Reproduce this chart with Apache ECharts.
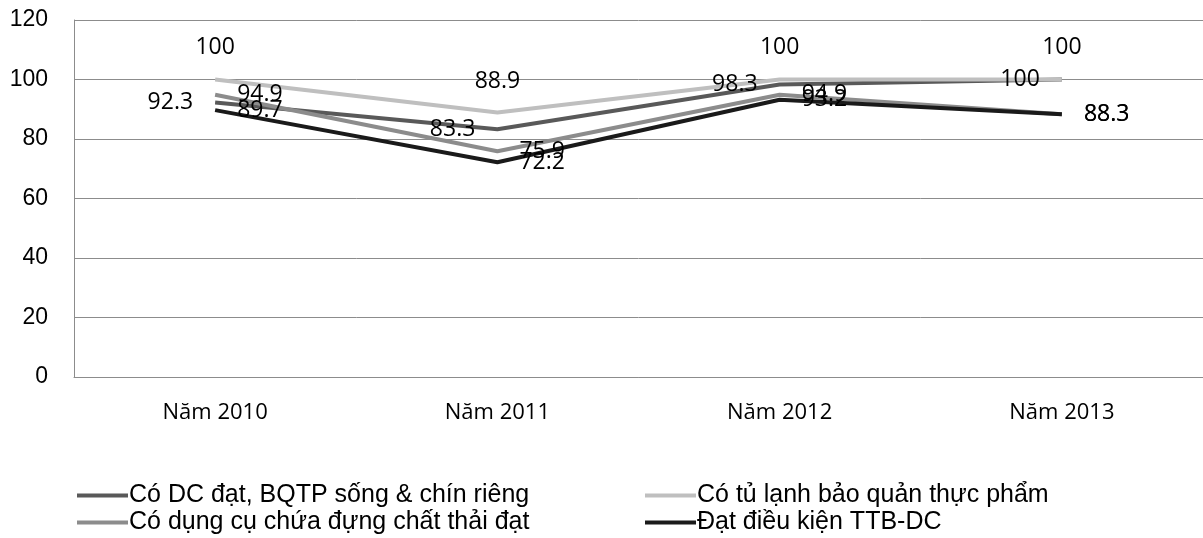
<!DOCTYPE html>
<html>
<head>
<meta charset="utf-8">
<script src="https://cdn.jsdelivr.net/npm/echarts@6/dist/echarts.min.js"></script>
<style>
  html, body { margin: 0; padding: 0; background: #fff; }
  #chart { width: 1203px; height: 538px; }
</style>
</head>
<body>
<div id="chart"></div>
<script>
// Years on the category axis
const categories = ['Năm 2010', 'Năm 2011', 'Năm 2012', 'Năm 2013'];

// Series names
const nameDC = 'Có DC đạt, BQTP sống & chín riêng';
const nameTuLanh = 'Có tủ lạnh bảo quản thực phẩm';
const nameChatThai = 'Có dụng cụ chứa đựng chất thải đạt';
const nameTTB = 'Đạt điều kiện TTB-DC';

// Percentages per year
const valuesDC = [92.3, 83.3, 98.3, 100];
const valuesTuLanh = [100, 88.9, 100, 100];
const valuesChatThai = [94.9, 75.9, 94.9, 88.3];
const valuesTTB = [89.7, 72.2, 93.2, 88.3];

// Value axis ticks
const yMin = 0, yMax = 120, yStep = 20;

const labelFont = { fontFamily: 'Open Sans', fontSize: 23, color: '#000' };

function lineSeries(name, data, color, pos) {
  return {
    name: name,
    type: 'line',
    data: data,
    symbol: 'circle',
    symbolSize: 0.1,
    showSymbol: true,
    lineStyle: { color: color, width: 4 },
    itemStyle: { color: color },
    label: Object.assign({
      show: true,
      position: pos,
      distance: pos === 'top' ? 20 : 22
    }, labelFont),
    emphasis: { disabled: true },
    animation: false
  };
}

// One legend block per entry, laid out in two columns
function legendItem(name, left, top) {
  return {
    data: [name],
    left: left, top: top,
    padding: 0,
    itemWidth: 51, itemHeight: 4,
    icon: 'rect',
    textStyle: { fontFamily: 'Liberation Sans', fontSize: 25, color: '#000', padding: [0, 0, 0, -4] }
  };
}

const chart = echarts.init(document.getElementById('chart'), null, { renderer: 'canvas' });
chart.setOption({
  backgroundColor: '#fff',
  animation: false,
  grid: { left: 74, top: 20, width: 1136, height: 357, containLabel: false },
  legend: [
    legendItem(nameDC, 77, 483),
    legendItem(nameTuLanh, 645, 483),
    legendItem(nameChatThai, 77, 510),
    legendItem(nameTTB, 645, 510)
  ],
  xAxis: {
    type: 'category',
    data: categories,
    boundaryGap: true,
    axisLine: { lineStyle: { color: '#8c8c8c', width: 1 } },
    axisTick: { show: false },
    axisLabel: { fontFamily: 'Open Sans', fontSize: 22, color: '#000', margin: 25 },
    splitLine: { show: false }
  },
  yAxis: {
    type: 'value',
    min: yMin, max: yMax, interval: yStep,
    axisLine: { show: true, lineStyle: { color: '#8c8c8c', width: 1 } },
    axisTick: { show: false },
    axisLabel: { fontFamily: 'Liberation Sans', fontSize: 23, color: '#000', margin: 26 },
    splitLine: { lineStyle: { color: '#8c8c8c', width: 1 } }
  },
  series: [
    lineSeries(nameDC, valuesDC, '#595959', 'left'),
    lineSeries(nameTuLanh, valuesTuLanh, '#bfbfbf', 'top'),
    lineSeries(nameChatThai, valuesChatThai, '#8c8c8c', 'right'),
    lineSeries(nameTTB, valuesTTB, '#1a1a1a', 'right')
  ]
});
</script>
</body>
</html>
